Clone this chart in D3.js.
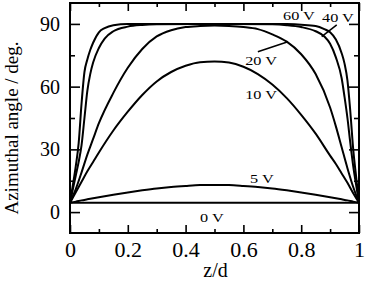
<!DOCTYPE html>
<html lang="en">
<head>
  <meta charset="UTF-8">
  <title>Azimuthal angle vs z/d</title>
  <script src="https://d3js.org/d3.v7.min.js"></script>
  <style>
    body { margin: 0; padding: 0; background: #fff; }
    svg { display: block; }
    svg text { font-family: "Liberation Serif", "Times New Roman", serif; }
  </style>
</head>
<body>
  <div id="chart"></div>

  <script>
    // sampled positions across the cell (z/d)
    const zEnds = [0, 1];
    const zCoarse = [0, 0.02, 0.04, 0.06, 0.08, 0.1, 0.15, 0.2, 0.25, 0.3, 0.35, 0.4, 0.45, 0.5,
      0.55, 0.6, 0.65, 0.7, 0.75, 0.8, 0.85, 0.9, 0.92, 0.94, 0.96, 0.98, 1];
    const zFine = [0, 0.01, 0.02, 0.03, 0.04, 0.05, 0.06, 0.07, 0.08, 0.1, 0.12, 0.15, 0.2, 0.25, 0.3,
      0.5, 0.7, 0.75, 0.8, 0.85, 0.88, 0.9, 0.92, 0.94, 0.95, 0.96, 0.97, 0.98, 0.99, 1];

    // azimuthal angle (deg) for each voltage
    const v0 = [4.5, 4.5];
    const v5 = [4.5, 5.0, 5.6, 6.1, 6.6, 7.1, 8.3, 9.4, 10.4, 11.3, 12.0, 12.5, 12.9, 13.0,
      12.9, 12.5, 12.0, 11.3, 10.4, 9.4, 8.3, 7.1, 6.6, 6.1, 5.6, 5.0, 4.5];
    const v10 = [4.5, 9.5, 14.5, 19.5, 24, 28.5, 39, 48, 56, 62.5, 67, 70, 71.7, 72,
      71.5, 69.5, 66, 61, 54.5, 46.5, 37.5, 27, 23, 18.5, 14, 9, 4.5];
    const v20 = [4.5, 11, 19, 27.5, 35, 42.5, 57, 69, 78, 84, 87, 88.5, 89, 89.2,
      89, 88.5, 87.5, 85, 81.5, 75.5, 66, 50, 41, 31, 21, 12, 4.5];
    const v40 = [4.5, 11, 17.5, 24, 32, 45, 58, 66, 71.5, 78.5, 83, 86.5, 88.7, 89.5, 89.8,
      90, 89.8, 89.4, 88.5, 86.5, 84, 80.5, 74, 64, 55, 45, 33, 22, 13, 4.5];
    const v60 = [4.5, 13, 22, 33, 52, 67, 73, 77.5, 81, 86, 88, 89.4, 90, 90, 90,
      90, 90, 89.9, 89.6, 89, 87.5, 86, 82.5, 76, 71, 63, 48, 30, 17, 4.5];

    const seriesNames = ["0 V", "5 V", "10 V", "20 V", "40 V", "60 V"];
    const seriesZ = [zEnds, zCoarse, zCoarse, zCoarse, zFine, zFine];
    const seriesV = [v0, v5, v10, v20, v40, v60];

    // label anchors (z/d, deg) for each curve label
    const labelZ = [0.491, 0.664, 0.661, 0.661, 0.927, 0.792];
    const labelV = [-4.7, 13.9, 54.1, 70.3, 90.9, 91.9];

    // leader lines [z1, v1, z2, v2]
    const leaders = [
      [0.65, 76.7, 0.754, 81.5],
      [0.923, 89.5, 0.871, 83.9]
    ];

    const xMajor = [0, 0.2, 0.4, 0.6, 0.8, 1];
    const xMinor = [0.1, 0.3, 0.5, 0.7, 0.9];
    const yMajor = [0, 30, 60, 90];
    const yMinor = [15, 45, 75];

    const W = 368, H = 282;
    const x = d3.scaleLinear().domain([0, 1]).range([70, 359]);
    const y = d3.scaleLinear().domain([-10, 100]).range([233, 3]);

    const svg = d3.select("#chart").append("svg")
      .attr("width", W)
      .attr("height", H);

    // ticks (inward) on all four sides
    const tickGroup = (axis, tr) => {
      const g = svg.append("g").attr("transform", tr).call(axis)
        .attr("font-family", null);
      g.select(".domain").remove();
      g.selectAll(".tick line").attr("stroke", "#000").attr("stroke-width", 1.6);
      return g;
    };

    const bottom = tickGroup(d3.axisBottom(x).tickValues(xMajor).tickSize(-8).tickPadding(10)
      .tickFormat(d => d === 0 || d === 1 ? d3.format("d")(d) : d3.format(".1f")(d)),
      `translate(0,${y.range()[0]})`);
    bottom.selectAll("text").attr("font-size", 20).attr("fill", "#000")
      .attr("transform", "scale(1.1,1)");
    tickGroup(d3.axisBottom(x).tickValues(xMinor).tickSize(-4).tickFormat(""), `translate(0,${y.range()[0]})`);
    tickGroup(d3.axisTop(x).tickValues(xMajor).tickSize(-8).tickFormat(""), `translate(0,${y.range()[1]})`);
    tickGroup(d3.axisTop(x).tickValues(xMinor).tickSize(-4).tickFormat(""), `translate(0,${y.range()[1]})`);

    const left = tickGroup(d3.axisLeft(y).tickValues(yMajor).tickSize(-10).tickPadding(10),
      `translate(${x.range()[0]},0)`);
    left.selectAll("text").attr("font-size", 20).attr("fill", "#000");
    tickGroup(d3.axisLeft(y).tickValues(yMinor).tickSize(-5).tickFormat(""), `translate(${x.range()[0]},0)`);
    tickGroup(d3.axisRight(y).tickValues(yMajor).tickSize(-10).tickFormat(""), `translate(${x.range()[1]},0)`);
    tickGroup(d3.axisRight(y).tickValues(yMinor).tickSize(-5).tickFormat(""), `translate(${x.range()[1]},0)`);

    // frame
    svg.append("rect")
      .attr("x", x.range()[0])
      .attr("y", y.range()[1])
      .attr("width", x.range()[1] - x.range()[0])
      .attr("height", y.range()[0] - y.range()[1])
      .attr("fill", "none")
      .attr("stroke", "#000")
      .attr("stroke-width", 2);

    // curves
    const line = d3.line()
      .x(d => x(d[0]))
      .y(d => y(d[1]))
      .curve(d3.curveMonotoneX);

    seriesNames.forEach((name, i) => {
      const pts = seriesZ[i].map((z, j) => [z, seriesV[i][j]]);
      svg.append("path")
        .datum(pts)
        .attr("d", line)
        .attr("fill", "none")
        .attr("stroke", "#000")
        .attr("stroke-width", 2);
    });

    // curve labels
    seriesNames.forEach((name, i) => {
      svg.append("text")
        .attr("transform", `translate(${x(labelZ[i])},${y(labelV[i])}) scale(1.25,1)`)
        .attr("text-anchor", "middle")
        .attr("font-size", 13)
        .attr("fill", "#000")
        .text(name);
    });

    svg.selectAll(".leader")
      .data(leaders)
      .join("line")
      .attr("class", "leader")
      .attr("x1", d => x(d[0]))
      .attr("y1", d => y(d[1]))
      .attr("x2", d => x(d[2]))
      .attr("y2", d => y(d[3]))
      .attr("stroke", "#000")
      .attr("stroke-width", 1.5);

    // axis titles
    svg.append("text")
      .attr("x", (x.range()[0] + x.range()[1]) / 2 + 1)
      .attr("y", 277)
      .attr("text-anchor", "middle")
      .attr("font-size", 20)
      .text("z/d");

    svg.append("text")
      .attr("transform", `translate(18,${(y.range()[0] + y.range()[1]) / 2 + 10}) rotate(-90)`)
      .attr("text-anchor", "middle")
      .attr("font-size", 19)
      .text("Azimuthal angle / deg.");
  </script>
</body>
</html>
